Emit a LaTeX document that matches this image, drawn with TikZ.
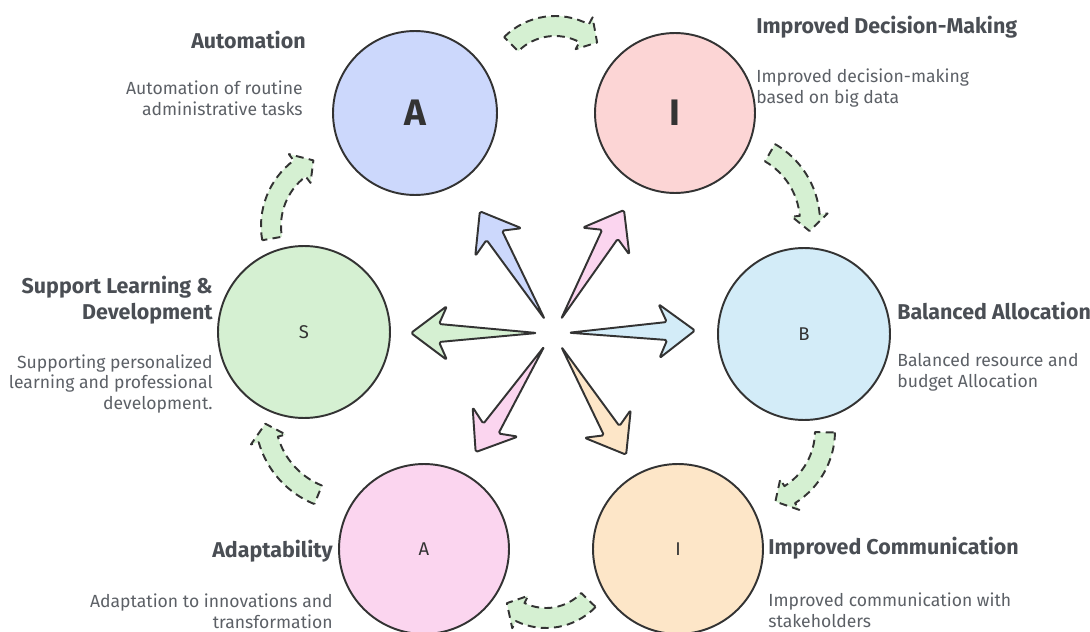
\documentclass[tikz,border=0pt]{standalone}
\usepackage{fontspec}
\setmainfont{Fira Sans}
\definecolor{ink}{HTML}{333333}
\definecolor{txt}{HTML}{4A4E54}
\definecolor{desc}{HTML}{5C6066}
\definecolor{blueF}{HTML}{CCD8FC}
\definecolor{redF}{HTML}{FCD5D5}
\definecolor{greenF}{HTML}{D5F0D2}
\definecolor{skyF}{HTML}{D3ECF8}
\definecolor{pinkF}{HTML}{FBD5EF}
\definecolor{sandF}{HTML}{FDE6C8}
\tikzset{
  bubble/.style={circle,draw=ink,line width=1.1pt,inner sep=0pt,minimum size=#1,text=ink},
  head/.style={font=\bfseries\fontsize{12.2}{14.7}\selectfont,text=txt,inner sep=0pt},
  blurb/.style={font=\fontsize{10}{11.9}\selectfont,text=desc,inner sep=0pt},
  spoke/.style={draw=ink,line width=1.1pt,line join=round,rounded corners=1pt},
  loopy/.style={draw=ink,fill=greenF,line width=1.1pt,line join=round,dash pattern=on 4.5pt off 3pt}
}
\newcommand{\spokearrow}[2]{%
  \draw[spoke,fill=#2,shift={(hub)},rotate=#1](16,0)--(114,-9)--(106,-27)--(142,0)--(106,27)--(114,9)--cycle;}
% centre, radius, start angle, end of body
\newcommand{\cyclearrow}[4]{%
  \pgfmathsetmacro{\tip}{#4+16/#2*57.3}
  \pgfmathsetmacro{\ro}{#2+10}\pgfmathsetmacro{\ri}{#2-10}
  \pgfmathsetmacro{\hro}{#2+18}\pgfmathsetmacro{\hri}{#2-18}
  \draw[loopy,shift={(#1)}](#3:\ro) arc[start angle=#3,end angle=#4,radius=\ro]--(#4:\hro)--(\tip:#2)--(#4:\hri)--(#4:\ri) arc[start angle=#4,end angle=#3,radius=\ri]--cycle;}
\begin{document}
\begin{tikzpicture}[x=0.02cm,y=-0.02cm]
\useasboundingbox(0,0)rectangle(1090,632);
\coordinate(hub)at(553,333);
\node[bubble=3.28cm,fill=blueF,font=\bfseries\fontsize{21}{21}\selectfont](autoC)at(415,113){A};
\node[bubble=3.2cm,fill=redF,font=\bfseries\fontsize{21}{21}\selectfont](deciC)at(675,113){I};
\node[bubble=3.44cm,fill=greenF,font=\fontsize{10.5}{10.5}\selectfont](suppC)at(304,332){S};
\node[bubble=3.44cm,fill=skyF,font=\fontsize{10.5}{10.5}\selectfont](balaC)at(804,334){B};
\node[bubble=3.4cm,fill=pinkF,font=\fontsize{10.5}{10.5}\selectfont](adapC)at(424,549){A};
\node[bubble=3.4cm,fill=sandF,font=\fontsize{10.5}{10.5}\selectfont](commC)at(678,549){I};
\spokearrow{121}{blueF}
\spokearrow{60}{pinkF}
\spokearrow{1}{skyF}
\spokearrow{180}{greenF}
\spokearrow{237}{pinkF}
\spokearrow{301}{sandF}
\cyclearrow{555,88}{62}{-135}{-62}
\cyclearrow{730,222}{80}{-60}{-5}
\cyclearrow{750,431}{75}{1}{58}
\cyclearrow{546,559}{59}{44}{116}
\cyclearrow{350,416}{85}{112}{164}
\cyclearrow{343,226}{72}{170}{233}
\node[head,anchor=east](autoT)at(306,40){Automation};
\node[blurb,align=right,anchor=east](autoD)at(303,98){Automation of routine\\administrative tasks};
\node[head,anchor=west](deciT)at(756,27){Improved Decision-Making};
\node[blurb,align=left,anchor=west](deciD)at(756,88){Improved decision-making\\based on big data};
\node[head,align=right,anchor=east](suppT)at(213,300){Support Learning \&\\Development};
\node[blurb,align=right,anchor=east](suppD)at(213,384){Supporting personalized\\learning and professional\\development.};
\node[head,anchor=west](balaT)at(897,311){Balanced Allocation};
\node[blurb,align=left,anchor=west](balaD)at(897,372){Balanced resource and\\budget Allocation};
\node[head,anchor=east](adapT)at(333,551){Adaptability};
\node[blurb,align=right,anchor=east](adapD)at(333,611){Adaptation to innovations and\\transformation};
\node[head,anchor=west](commT)at(768,548){Improved Communication};
\node[blurb,align=left,anchor=west](commD)at(768,610){Improved communication with\\stakeholders};
\end{tikzpicture}
\end{document}
